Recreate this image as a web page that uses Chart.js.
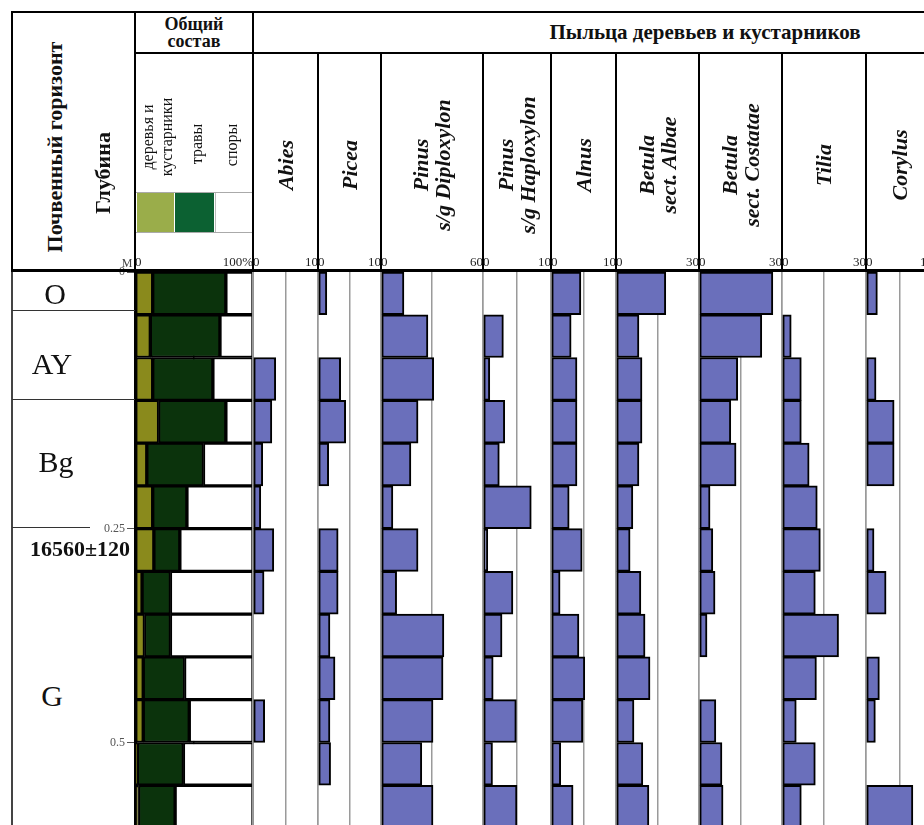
<!DOCTYPE html>
<html lang="ru">
<head>
<meta charset="utf-8">
<title>Спорово-пыльцевая диаграмма</title>
<script src="https://cdn.jsdelivr.net/npm/chart.js"></script>
<style>
  body { margin: 0; background: #fff; }
  #lienzo { position: relative; width: 924px; height: 825px; overflow: hidden;
            font-family: "Liberation Serif", "Times New Roman", serif; color: #111; }
  #lienzo canvas { position: absolute; z-index: 1; }
  .ln { position: absolute; background: #000; z-index: 2; }
  .tx { position: absolute; white-space: nowrap; text-align: center; z-index: 3;
        transform: translate(-50%, -50%); }
  .rot { transform: translate(-50%, -50%) rotate(-90deg); }
  .b { font-weight: bold; }
  .taxon { font-weight: bold; font-style: italic; font-size: 22px; line-height: 22px; }
  .sw { position: absolute; top: 0; height: 39px; }
</style>
</head>
<body>
<div id="lienzo">
  <!-- рамка шапки -->
  <div class="ln" style="left:11px;top:11px;width:913px;height:2px"></div>
  <div class="ln" style="left:11px;top:11px;width:2px;height:260px"></div>
  <div class="ln" style="left:11px;top:271px;width:1.5px;height:560px;background:#444"></div>
  <div class="ln" style="left:134px;top:11px;width:2px;height:260px"></div>
  <div class="ln" style="left:252px;top:11px;width:2px;height:260px"></div>
  <div class="ln" style="left:135px;top:52px;width:789px;height:2px"></div>
  <div class="ln" style="left:11px;top:269px;width:913px;height:3px"></div>

  <!-- границы горизонтов -->
  <div class="ln" style="left:12px;top:310px;width:123px;height:1px;background:#333"></div>
  <div class="ln" style="left:12px;top:399px;width:123px;height:1px;background:#333"></div>
  <div class="ln" style="left:12px;top:527px;width:78px;height:1px;background:#333"></div>

  <!-- подписи слева -->
  <div class="tx rot b" style="left:55px;top:147px;font-size:22px">Почвенный горизонт</div>
  <div class="tx rot b" style="left:103px;top:173px;font-size:22px">Глубина</div>
  <div class="tx" style="left:127px;top:263px;font-size:12px;color:#444">М</div>
  <div class="tx" style="left:55px;top:294px;font-size:30px;line-height:30px">O</div>
  <div class="tx" style="left:52px;top:364px;font-size:30px;line-height:30px">AY</div>
  <div class="tx" style="left:56px;top:462px;font-size:30px;line-height:30px">Bg</div>
  <div class="tx" style="left:52px;top:696px;font-size:30px;line-height:30px">G</div>
  <div class="tx b" style="left:80px;top:549px;font-size:22px;line-height:22px">16560±120</div>

  <!-- общий состав -->
  <div class="tx b" style="left:194px;top:33px;font-size:18px;line-height:17px">Общий<br>состав</div>
  <div class="tx rot" style="left:157px;top:137px;font-size:16px;line-height:19px">деревья и<br>кустарники</div>
  <div class="tx rot" style="left:197px;top:144px;font-size:16px">травы</div>
  <div class="tx rot" style="left:232px;top:145px;font-size:16px">споры</div>
  <div style="position:absolute;left:136px;top:192px;width:116px;height:39px;border-top:1px solid #aaa;border-bottom:1px solid #aaa">
    <div class="sw" style="left:1px;width:37px;background:#9aad4a"></div>
    <div class="sw" style="left:39px;width:39px;background:#0c6132"></div>
    <div class="sw" style="left:79px;width:37px;background:#fff;border-left:1px solid #bbb"></div>
  </div>

  <div class="tx b" style="left:705px;top:32px;font-size:21px">Пыльца деревьев и кустарников</div>
</div>

<script>
// ====================================================================
// ДАННЫЕ
// ====================================================================

const samples = [1, 2, 3, 4, 5, 6, 7, 8, 9, 10, 11, 12, 13];
const depthTickRows = [0, 6, 11];
const depthTickLabels = ['0', '0.25', '0.5'];

// общий состав, %
const treesShrubs = [15, 13, 15, 20, 10, 15, 16, 6, 8, 7, 7, 2, 3];
const herbs       = [62, 59, 51, 57, 48, 29, 22, 24, 22, 35, 39, 39, 31];
const spores      = [23, 28, 34, 23, 42, 56, 62, 70, 70, 58, 54, 59, 66];

// пыльца деревьев и кустарников, %
const taxa = [
    ['Abies'], ['Picea'], ['Pinus', 's/g Diploxylon'], ['Pinus', 's/g Haploxylon'],
    ['Alnus'], ['Betula', 'sect. Albae'], ['Betula', 'sect. Costatae'], ['Tilia'], ['Corylus']
];
const taxaMax = [10, 10, 60, 10, 10, 30, 30, 30, 10];

const abies          = [0, 0, 3.5, 2.9, 1.5, 1.2, 3.2, 1.7, 0, 0, 1.8, 0, 0];
const picea          = [1.4, 0, 3.6, 4.4, 1.7, 0, 3.2, 3.2, 1.9, 2.7, 1.9, 2.0, 0];
const pinusDiplo     = [13.5, 27.6, 31, 21.8, 17.6, 7, 21.8, 9.2, 37, 36.5, 30.6, 24, 30.6];
const pinusHaplo     = [0, 3.0, 1.0, 3.2, 2.4, 7.1, 0.7, 4.4, 2.8, 1.5, 4.9, 1.4, 5.0];
const alnus          = [4.6, 3.1, 4.0, 4.0, 4.0, 2.8, 4.8, 1.4, 4.3, 5.2, 4.9, 1.5, 3.4];
const betulaAlbae    = [18, 8.3, 9.4, 9.4, 8.3, 6.1, 5.1, 9.0, 10.5, 12.3, 6.5, 9.7, 11.9];
const betulaCostatae = [26.7, 22.7, 14, 11.5, 13.4, 4.0, 5.0, 5.8, 2.9, 0, 6.1, 8.3, 8.7];
const tilia          = [0, 3.3, 6.9, 6.9, 9.7, 12.6, 13.7, 11.9, 20.2, 12.3, 5.1, 11.9, 6.9];
const corylus        = [1.7, 0, 1.5, 4.2, 4.2, 0, 1.2, 3.0, 0, 2.0, 1.4, 0, 7.0];

const pollen = [abies, picea, pinusDiplo, pinusHaplo, alnus, betulaAlbae, betulaCostatae, tilia, corylus];

// ====================================================================
// РАЗМЕТКА
// ====================================================================

const COL_EDGES = [253, 318, 381, 483, 551, 616, 699, 782, 866, 933];
const PLOT_TOP = 255;   // верх холста (над ним подписи шкал)
const AXIS_H = 17;      // высота подписей 0 ... max
const PLOT_H = 573;

const BLUE = '#6a6fbb';
const OLIVE = '#8a8a1c';
const DARK_GREEN = '#0b330c';
const tickFont = { family: '"Liberation Serif", serif', size: 13 };

Chart.defaults.font.family = '"Liberation Serif", serif';

const lienzo = document.getElementById('lienzo');

function addDiv(cls, style, html) {
    const d = document.createElement('div');
    d.className = cls;
    d.style.cssText = style;
    if (html) d.innerHTML = html;
    lienzo.appendChild(d);
}

function makeCanvas(left, width) {
    const c = document.createElement('canvas');
    c.width = width;
    c.height = PLOT_H;
    c.style.left = left + 'px';
    c.style.top = PLOT_TOP + 'px';
    lienzo.appendChild(c);
    return c.getContext('2d');
}

// верхняя шкала колонки: подписи только 0 и максимум
function topScale(xMax, gridColor, fmt) {
    return {
        type: 'linear',
        position: 'top',
        min: 0,
        max: xMax,
        border: { display: false },
        grid: { color: gridColor, lineWidth: 1.5, drawTicks: false },
        ticks: {
            stepSize: xMax / 2,
            align: 'inner',
            maxRotation: 0,
            autoSkip: false,
            padding: 2,
            color: '#222',
            font: tickFont,
            callback: v => (v === 0 || v === xMax) ? fmt(v) : ''
        },
        afterFit: s => { s.height = AXIS_H; s.paddingLeft = 0; s.paddingRight = 0; }
    };
}

// ось образцов (глубина), сверху вниз, без отступов по краям
function depthScale(extra) {
    return Object.assign({
        type: 'linear',
        min: 0,
        max: 13,
        reverse: true,
        offset: false,
        grid: { offset: false },
        ticks: { stepSize: 1 }
    }, extra);
}

function barSet(values, color) {
    return {
        data: samples.map((s, k) => ({ x: values[k] > 0 ? values[k] : null, y: s - 0.5 })),
        backgroundColor: color,
        borderColor: '#000',
        borderWidth: 2,
        borderSkipped: false,
        barPercentage: 1,
        categoryPercentage: 1,
        stack: 'comp'
    };
}

const baseOptions = {
    indexAxis: 'y',
    responsive: false,
    animation: false,
    devicePixelRatio: 1,
    plugins: { legend: { display: false }, tooltip: { enabled: false } }
};

// ====================================================================
// ГРАФИКИ
// ====================================================================

// Общий состав: деревья и кустарники / травы / споры
function renderComposicion() {
    const ctx = makeCanvas(95, 160);
    return new Chart(ctx, {
        type: 'bar',
        data: {
            datasets: [
                barSet(treesShrubs, OLIVE),
                barSet(herbs, DARK_GREEN),
                barSet(spores, '#ffffff')
            ]
        },
        options: {
            ...baseOptions,
            layout: { padding: { right: 2 } },
            scales: {
                x: { ...topScale(100, '#222', v => v === 100 ? '100%' : v), stacked: true },
                y: depthScale({
                    position: 'left',
                    stacked: true,
                    border: { display: true, color: '#000', width: 3 },
                    grid: { offset: false, drawOnChartArea: false, drawTicks: true, tickLength: 8, color: '#555' },
                    ticks: {
                        color: '#555',
                        font: { size: 12 },
                        padding: 2,
                        callback: v => {
                            const i = depthTickRows.indexOf(v);
                            return i >= 0 ? depthTickLabels[i] : '';
                        }
                    },
                    afterBuildTicks: s => { s.ticks = depthTickRows.map(v => ({ value: v })); },
                    afterFit: s => { s.width = 40; s.paddingTop = 0; s.paddingBottom = 0; }
                })
            }
        }
    });
}

// Одна колонка пыльцы
function renderPolen(i) {
    const left = COL_EDGES[i];
    const width = COL_EDGES[i + 1] - left;
    const ctx = makeCanvas(left - 2, width + 4);

    // заголовок колонки и разделитель в шапке
    addDiv('tx rot taxon', `left:${left + width / 2}px;top:165px`, taxa[i].join('<br>'));
    if (i > 0) addDiv('ln', `left:${left - 1}px;top:52px;width:2px;height:219px`);

    return new Chart(ctx, {
        type: 'bar',
        data: { datasets: [barSet(pollen[i], BLUE)] },
        options: {
            ...baseOptions,
            layout: { padding: { left: 2, right: 2 } },
            scales: {
                x: topScale(taxaMax[i], '#9a9a9a', v => v),
                y: depthScale({ display: false })
            }
        }
    });
}

renderComposicion();
pollen.forEach((_, i) => renderPolen(i));
</script>
</body>
</html>
